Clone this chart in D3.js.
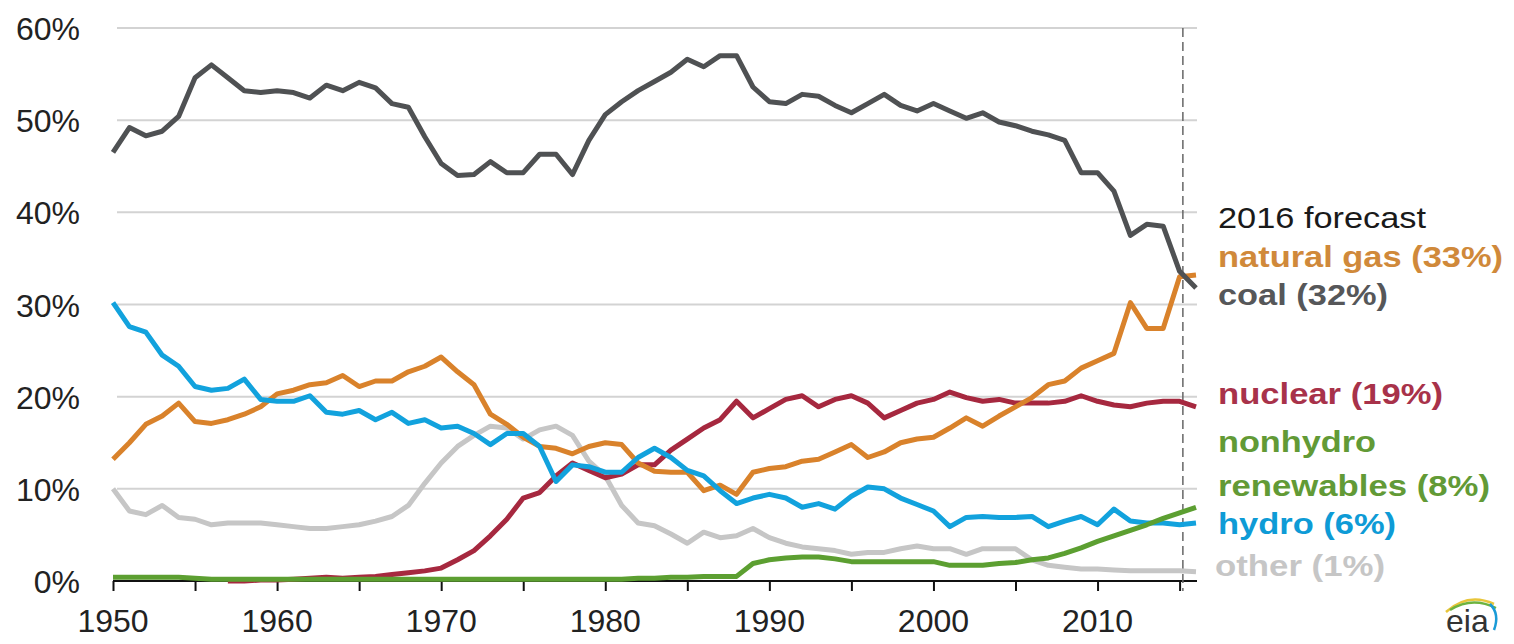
<!DOCTYPE html>
<html>
<head>
<meta charset="utf-8">
<script src="https://cdn.jsdelivr.net/npm/d3@7"></script>
<style>
  html, body { margin: 0; padding: 0; background: #ffffff; }
  svg { display: block; }
  text { font-family: "Liberation Sans", Arial, sans-serif; }
</style>
</head>
<body>
<svg id="chart" width="1514" height="644"></svg>
<script>
// ---------- data (share of U.S. electricity generation, %) ----------
const years = d3.range(1950, 2017);

const coal = [46.5,49.2,48.3,48.8,50.4,54.6,56.0,54.6,53.2,53.0,
  53.2,53.0,52.4,53.8,53.2,54.1,53.5,51.8,51.4,48.2,
  45.3,44.0,44.1,45.5,44.3,44.3,46.3,46.3,44.1,47.8,
  50.6,52.0,53.2,54.2,55.2,56.6,55.8,57.0,57.0,53.6,
  52.0,51.8,52.8,52.6,51.6,50.8,51.8,52.8,51.6,51.0,
  51.8,51.0,50.2,50.8,49.8,49.4,48.8,48.4,47.8,44.3,
  44.3,42.3,37.5,38.7,38.5,33.6,31.8];

const naturalGas = [13.2,15.0,17.0,17.9,19.3,17.3,17.1,17.5,18.1,18.9,
  20.3,20.7,21.3,21.5,22.3,21.1,21.7,21.7,22.7,23.3,
  24.3,22.7,21.3,18.1,17.0,15.6,14.6,14.4,13.8,14.6,
  15.0,14.8,12.8,11.9,11.8,11.8,9.8,10.4,9.4,11.8,
  12.2,12.4,13.0,13.2,14.0,14.8,13.4,14.0,15.0,15.4,
  15.6,16.6,17.7,16.8,17.9,18.9,19.9,21.3,21.7,23.1,
  23.9,24.7,30.2,27.4,27.4,33.0,33.2];

const nuclear = [null,null,null,null,null,null,null,0.0,0.0,0.1,
  0.1,0.2,0.3,0.4,0.3,0.4,0.5,0.7,0.9,1.1,
  1.4,2.3,3.3,4.9,6.7,9.0,9.6,11.4,12.8,12.0,
  11.2,11.6,12.6,12.6,14.2,15.4,16.6,17.5,19.5,17.7,
  18.7,19.7,20.1,18.9,19.7,20.1,19.3,17.7,18.5,19.3,
  19.7,20.5,19.9,19.5,19.7,19.3,19.3,19.3,19.5,20.1,
  19.5,19.1,18.9,19.3,19.5,19.5,18.9];

const hydro = [30.2,27.6,27.0,24.5,23.3,21.1,20.7,20.9,21.9,19.7,
  19.5,19.5,20.1,18.3,18.1,18.5,17.5,18.3,17.1,17.5,
  16.6,16.8,16.0,14.8,16.0,16.0,14.6,10.8,12.6,12.4,
  11.8,11.8,13.4,14.4,13.4,12.0,11.4,9.8,8.4,9.0,
  9.4,9.0,8.0,8.4,7.8,9.2,10.2,10.0,9.0,8.3,
  7.6,5.9,6.9,7.0,6.9,6.9,7.0,5.9,6.5,7.0,
  6.1,7.8,6.5,6.3,6.3,6.1,6.3];

const nonhydroRenewables = [0.4,0.4,0.4,0.4,0.4,0.3,0.2,0.2,0.2,0.2,
  0.2,0.2,0.2,0.2,0.2,0.2,0.2,0.2,0.2,0.2,
  0.2,0.2,0.2,0.2,0.2,0.2,0.2,0.2,0.2,0.2,
  0.2,0.2,0.3,0.3,0.4,0.4,0.5,0.5,0.5,1.9,
  2.3,2.5,2.6,2.6,2.4,2.1,2.1,2.1,2.1,2.1,
  2.1,1.7,1.7,1.7,1.9,2.0,2.3,2.5,3.0,3.6,
  4.3,4.9,5.5,6.1,6.8,7.4,8.0];

const other = [10.0,7.6,7.2,8.2,6.9,6.7,6.1,6.3,6.3,6.3,
  6.1,5.9,5.7,5.7,5.9,6.1,6.5,7.0,8.2,10.6,
  12.8,14.6,15.8,16.8,16.6,15.4,16.4,16.8,15.8,13.0,
  11.4,8.2,6.3,6.0,5.1,4.1,5.3,4.7,4.9,5.7,
  4.7,4.1,3.7,3.5,3.3,2.9,3.1,3.1,3.5,3.8,
  3.5,3.5,2.9,3.5,3.5,3.5,2.3,1.7,1.5,1.3,
  1.3,1.2,1.1,1.1,1.1,1.1,1.0];

const seriesNames  = ["other", "nuclear", "natural gas", "hydro", "nonhydro renewables", "coal"];
const seriesColors = ["#c6c6c6", "#a6283f", "#d9822b", "#12a2dd", "#5c9f31", "#4f5153"];
const seriesValues = [other, nuclear, naturalGas, hydro, nonhydroRenewables, coal];

const xTickValues = [1950, 1960, 1970, 1980, 1990, 2000, 2010];
const xTickLabels = ["1950", "1960", "1970", "1980", "1990", "2000", "2010"];
const xMinorTicks = [1950, 1955, 1960, 1965, 1970, 1975, 1980, 1985, 1990, 1995, 2000, 2005, 2010, 2015];
const yTickValues = [0, 10, 20, 30, 40, 50, 60];
const yTickLabels = ["0%", "10%", "20%", "30%", "40%", "50%", "60%"];
const forecastYear = 2015.2;

const legendHeader = "2016 forecast";
const legendLines  = ["natural gas (33%)", "coal (32%)", "nuclear (19%)", "nonhydro", "renewables (8%)", "hydro (6%)", "other (1%)"];
const legendColors = ["#d0893a", "#565759", "#a8324a", "#629a36", "#629a36", "#0e9bd6", "#c6c6c6"];

// ---------- layout ----------
const svg = d3.select("#chart");
const x = d3.scaleLinear().domain([1950, 2016]).range([113, 1196]);
const y = d3.scaleLinear().domain([0, 60]).range([581, 28]);

// gridlines
svg.append("g").selectAll("line")
  .data(yTickValues.filter(v => v > 0))
  .join("line")
  .attr("x1", x(1950) + 4).attr("x2", x(2016) + 1)
  .attr("y1", d => y(d)).attr("y2", d => y(d))
  .attr("stroke", "#d3d3d3").attr("stroke-width", 2);

// y tick labels
svg.append("g").selectAll("text")
  .data(yTickValues)
  .join("text")
  .attr("x", 80).attr("y", d => y(d) + 12)
  .attr("text-anchor", "end")
  .attr("font-size", 32).attr("fill", "#222")
  .text((d, i) => yTickLabels[i]);

// x axis
const xAxis = d3.axisBottom(x)
  .tickValues(xMinorTicks)
  .tickSize(10)
  .tickFormat("");
const ax = svg.append("g").attr("transform", `translate(0,${y(0)})`).call(xAxis);
ax.select(".domain").attr("stroke", "#111").attr("stroke-width", 2).attr("d", `M${x(1950)},0H${x(2016)+1}`);
ax.selectAll(".tick line").attr("stroke", "#111").attr("stroke-width", 2);

svg.append("g").selectAll("text")
  .data(xTickValues)
  .join("text")
  .attr("x", d => x(d)).attr("y", 632)
  .attr("text-anchor", "middle")
  .attr("font-size", 32).attr("fill", "#222")
  .text((d, i) => xTickLabels[i]);

// forecast divider
svg.append("line")
  .attr("x1", x(forecastYear)).attr("x2", x(forecastYear))
  .attr("y1", y(60)).attr("y2", y(0) + 10)
  .attr("stroke", "#666").attr("stroke-width", 1.5)
  .attr("stroke-dasharray", "9,5");

// lines
const line = d3.line()
  .defined(d => d.v !== null)
  .x(d => x(d.year))
  .y(d => y(d.v));

svg.append("g").selectAll("path")
  .data(seriesValues.map((vals, i) => ({ name: seriesNames[i], color: seriesColors[i],
      pts: vals.map((v, j) => ({ year: years[j], v: v })) })))
  .join("path")
  .attr("d", d => line(d.pts))
  .attr("fill", "none")
  .attr("stroke", d => d.color)
  .attr("stroke-width", 5)
  .attr("stroke-linejoin", "round")
  .attr("stroke-linecap", "butt");

// legend / labels
const legendX = 1218;
const legendYs = [267, 305, 404, 452, 496, 534, 576];
const legendWidths = [285, 170, 225, 158, 272, 178, 170];

svg.append("text")
  .attr("x", legendX).attr("y", 228)
  .attr("font-size", 30).attr("fill", "#1a1a1a")
  .attr("textLength", 208).attr("lengthAdjust", "spacingAndGlyphs")
  .text(legendHeader);

svg.append("g").selectAll("text")
  .data(legendLines)
  .join("text")
  .attr("x", (d, i) => i === legendLines.length - 1 ? legendX - 3 : legendX)
  .attr("y", (d, i) => legendYs[i])
  .attr("font-size", 30).attr("font-weight", "bold")
  .attr("fill", (d, i) => legendColors[i])
  .attr("textLength", (d, i) => legendWidths[i]).attr("lengthAdjust", "spacingAndGlyphs")
  .text(d => d);

// eia logo
const logo = svg.append("g").attr("transform", "translate(1442,598)");
logo.append("path").attr("d", "M4,14 Q26,-6 52,6").attr("fill", "none")
  .attr("stroke", "#e8c53a").attr("stroke-width", 2.5);
logo.append("path").attr("d", "M8,12 Q30,-2 54,10").attr("fill", "none")
  .attr("stroke", "#6db33f").attr("stroke-width", 2.5);
logo.append("path").attr("d", "M48,6 Q58,16 52,32").attr("fill", "none")
  .attr("stroke", "#1a9bd7").attr("stroke-width", 2.5);
logo.append("text").attr("x", 4).attr("y", 34)
  .attr("font-family", "'Liberation Serif', 'DejaVu Serif', serif")
  .attr("font-size", 32).attr("fill", "#333")
  .text("eia");
</script>
</body>
</html>
